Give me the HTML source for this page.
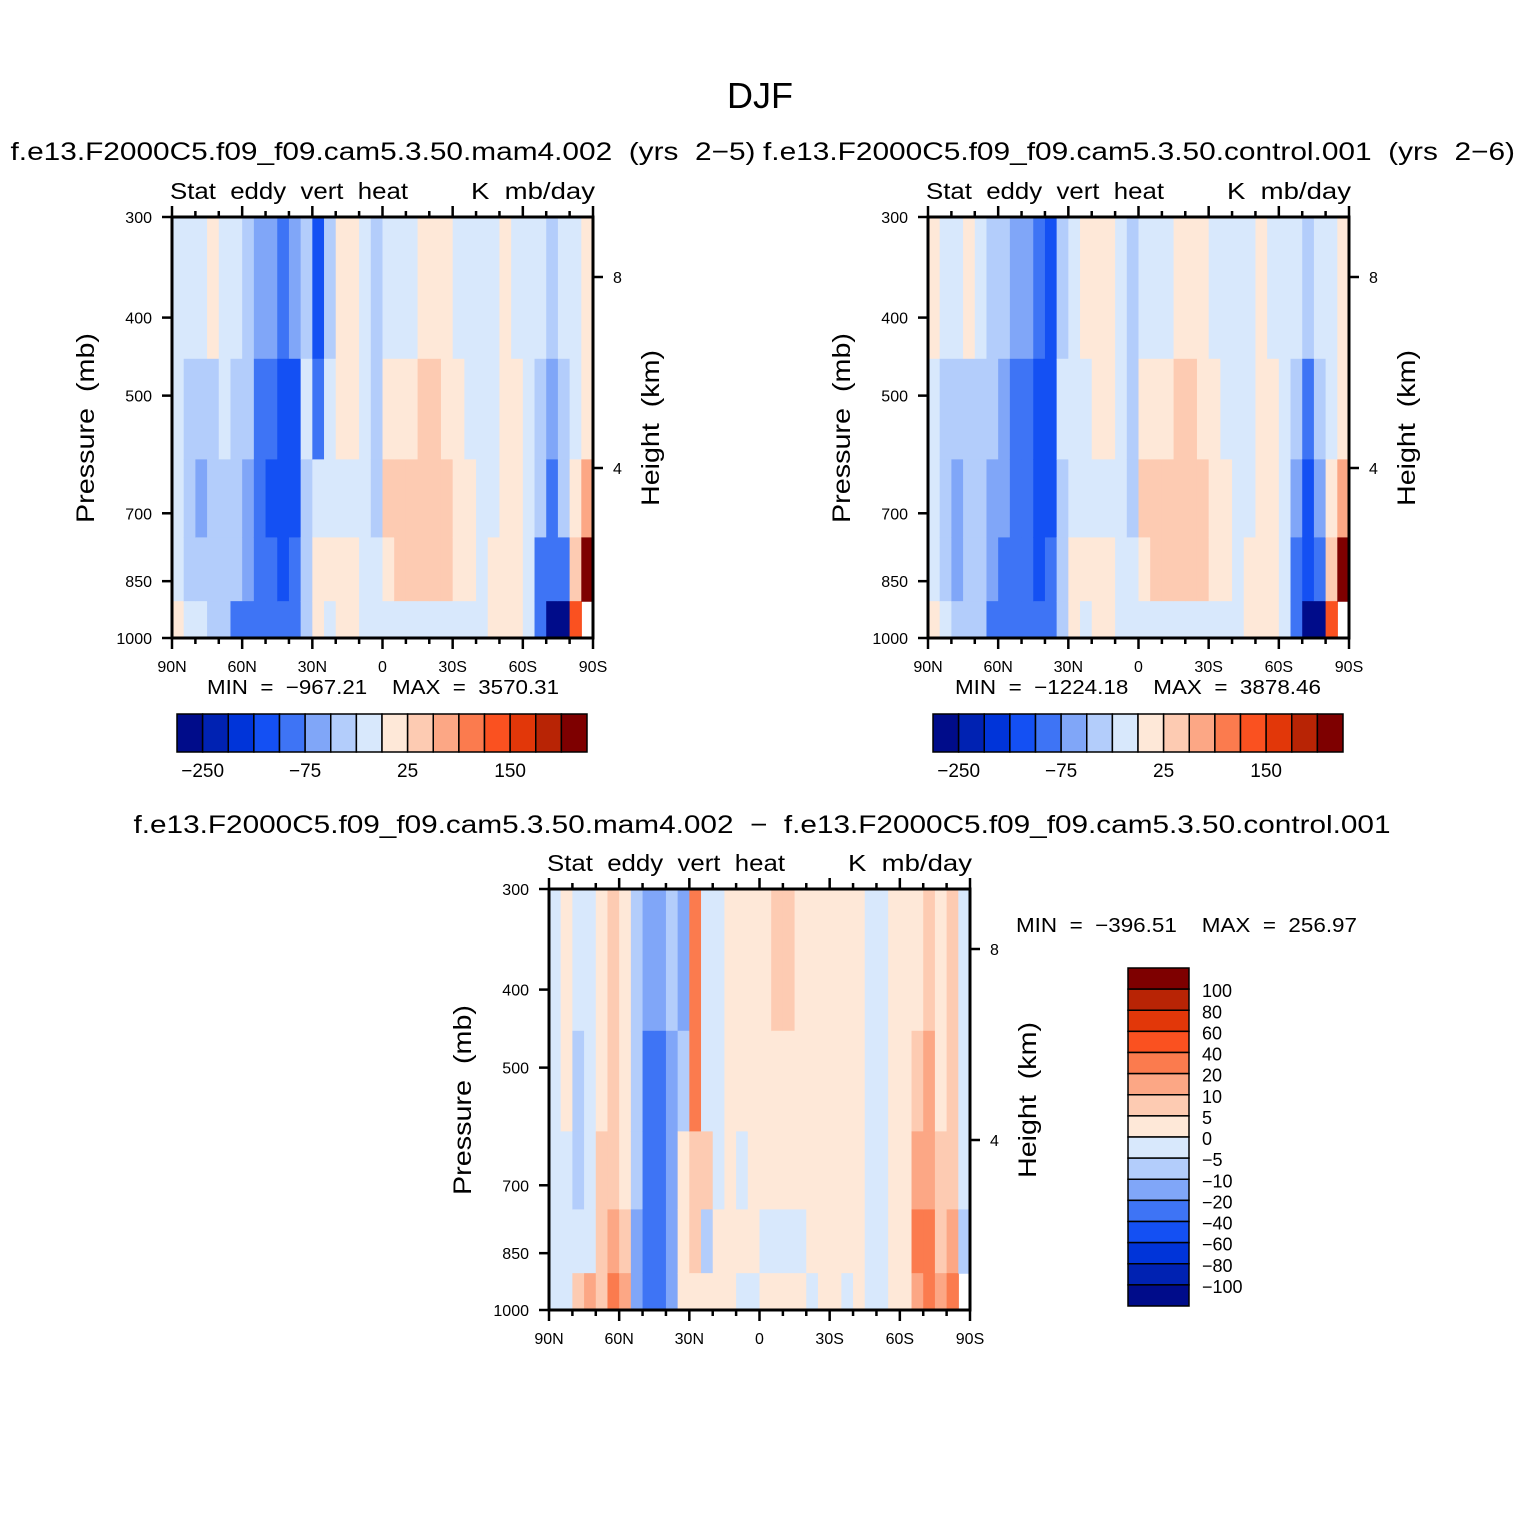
<!DOCTYPE html>
<html><head><meta charset="utf-8"><style>
html,body{margin:0;padding:0;background:#fff;}
svg{display:block;font-family:"Liberation Sans",sans-serif;}
svg text{white-space:pre;}
</style></head><body>
<svg id="fig" width="1522" height="1522" viewBox="0 0 1522 1522">
<text x="760" y="108" font-size="36" text-anchor="middle">DJF</text>
</svg>
<script>
// ---- data ----
const latCols = [];  // 36 bins of 5 degrees, 90N -> 90S
for (let i = 0; i < 36; i++) latCols.push(90 - 5 * i);
const presEdges = [300, 450, 600, 750, 900, 1000];
const levels12 = [-250,-200,-150,-100,-75,-50,-25,0,25,50,75,100,150,200,250];
const levels3 = [-100,-80,-60,-40,-20,-10,-5,0,5,10,20,40,60,80,100];
const colors = ["#000c8a","#0022b2","#0034d9","#1450f3","#3e74f5","#80a6f8","#b3cdfb","#d8e8fc","#fee8d8","#fdcbb2","#fca785","#fb7b4e","#fa5120","#e23709","#b82405","#7e0000"];
const cbLabels12 = ["-250","-75","25","150"];
const cbLabelIdx12 = [0,4,8,12];
const cbLabels3 = ["100","80","60","40","20","10","5","0","\u22125","\u221210","\u221220","\u221240","\u221260","\u221280","\u2212100"];
// rows: 300-450, 450-600, 600-750, 750-900, 900-1000 ; columns 90N..90S
const p1 = [
[-10,-10,-10,-10,10],[-10,-30,-40,-30,-10],[-10,-40,-60,-40,-20],[10,-30,-30,-30,-30],[-10,-10,-30,-30,-30],
[-10,-30,-40,-40,-80],[-30,-40,-60,-60,-80],[-60,-80,-90,-80,-90],[-60,-90,-110,-90,-90],[-80,-110,-110,-110,-90],
[-60,-110,-110,-90,-80],[-30,-10,-30,-40,-40],[-110,-80,-10,10,10],[-40,-10,-10,10,-10],[10,10,-10,10,10],
[10,10,-10,10,10],[-10,-10,-10,-10,-10],[-30,-30,-30,-10,-10],[-10,10,30,10,-10],[-10,10,30,30,-10],
[-10,10,30,30,-10],[10,30,40,30,-10],[10,30,40,30,-10],[10,10,30,30,-10],[-10,10,10,10,-10],
[-10,-10,10,10,-10],[-10,-10,-10,-10,-10],[-10,-10,-10,10,10],[10,10,10,10,10],[-10,10,10,10,10],
[-10,-10,-10,-10,-10],[-10,-30,-40,-80,-90],[-30,-60,-100,-100,-300],[-10,-30,-40,-80,-300],[-10,-10,10,30,100],
[10,10,50,300,null]];
const p2 = [
[10,-10,-10,-10,10],[-10,-30,-40,-30,-10],[-10,-40,-60,-60,-30],[10,-30,-40,-40,-30],[-10,-30,-40,-40,-40],
[-30,-40,-60,-60,-80],[-40,-60,-60,-80,-80],[-60,-80,-90,-90,-90],[-60,-90,-90,-90,-90],[-80,-110,-110,-110,-90],
[-110,-120,-110,-90,-80],[-30,-10,-30,-40,-40],[-10,-10,-10,10,10],[10,-10,-10,10,-10],[10,10,-10,10,10],
[10,10,-10,10,10],[-10,-10,-10,-10,-10],[-30,-30,-30,-10,-10],[-10,10,30,10,-10],[-10,10,30,30,-10],
[-10,10,30,30,-10],[10,30,40,30,-10],[10,30,40,30,-10],[10,10,30,30,-10],[-10,10,10,10,-10],
[-10,-10,10,10,-10],[-10,-10,-10,-10,-10],[-10,-10,-10,10,10],[10,10,10,10,10],[-10,10,10,10,10],
[-10,-10,-10,-10,-10],[-10,-30,-60,-80,-90],[-30,-80,-110,-110,-300],[-10,-30,-60,-80,-300],[-10,-10,10,30,100],
[10,10,50,300,null]];
const p3 = [
[-3,-3,-3,-3,-3],[3,3,-3,-3,-3],[-3,-7,-7,-3,8],[-3,-3,-3,-3,15],[3,3,8,8,8],
[8,8,8,15,25],[3,3,3,8,15],[-7,-7,-7,-15,-15],[-15,-30,-30,-30,-30],[-15,-30,-30,-30,-30],
[-7,-15,-15,-15,-15],[-15,-7,3,3,3],[30,25,8,8,3],[-3,-3,8,-7,3],[-3,-3,-3,3,3],
[3,3,3,3,3],[3,3,-3,3,-3],[3,3,3,3,-3],[3,3,3,-3,3],[8,3,3,-3,3],
[8,3,3,-3,3],[3,3,3,-3,3],[3,3,3,3,-3],[3,3,3,3,3],[3,3,3,3,3],
[3,3,3,3,-3],[3,3,3,3,3],[-3,-3,-3,-3,-3],[-3,-3,-3,-3,-3],[3,3,3,3,3],
[3,3,3,3,3],[3,8,15,25,15],[8,15,15,25,25],[3,3,8,8,15],[8,8,8,15,30],
[-3,-3,-3,-10,null]];

// ---- drawing ----
const NS = "http://www.w3.org/2000/svg";
const svg = document.getElementById("fig");
function mk(tag, attrs, parent) {
  const e = document.createElementNS(NS, tag);
  for (const k in attrs) e.setAttribute(k, attrs[k]);
  (parent || svg).appendChild(e);
  return e;
}
function colorFor(v, lev) {
  let i = 0;
  while (i < lev.length && v >= lev[i]) i++;
  return colors[i];
}
function drawPanel(px, py, data, lev, pname) {
  const W = 421, H = 421;
  const g = mk("g", {});
  
  
  const xs = lat => px + (90 - lat) / 180 * W;
  const ys = p => py + H * Math.log(p / 300) / Math.log(1000 / 300);
  data.forEach((col, i) => {
    const lat = latCols[i];
    col.forEach((v, j) => {
      if (v === null) return;
      const x0 = xs(lat), x1 = xs(lat - 5);
      const y0 = ys(presEdges[j]), y1 = ys(presEdges[j + 1]);
      const r = mk("rect", {x: x0, y: y0, width: x1 - x0 + 0.6, height: y1 - y0 + 0.6, fill: colorFor(v, lev)}, g);
      
      
    });
  });
  const fr = mk("rect", {x: px, y: py, width: W, height: H, fill: "none", stroke: "#000", "stroke-width": 3}, g);
  
  
  const latLabels = ["90N","60N","30N","0","30S","60S","90S"];
  for (let d = 0; d <= 180; d += 10) {
    const x = px + d / 180 * W;
    const major = d % 30 === 0;
    const L = major ? 11 : 6;
    mk("line", {x1: x, y1: py + H, x2: x, y2: py + H + L, stroke: "#000", "stroke-width": 2.5}, g);
    mk("line", {x1: x, y1: py, x2: x, y2: py - L, stroke: "#000", "stroke-width": 2.5}, g);
    if (major) {
      const t = mk("text", {x: x, y: py + H + 34, "font-size": 16, "text-anchor": "middle"}, g);
      t.textContent = latLabels[d / 30];
      
      
    }
  }
  [300,400,500,700,850,1000].forEach(p => {
    const y = ys(p);
    mk("line", {x1: px, y1: y, x2: px - 10, y2: y, stroke: "#000", "stroke-width": 2.5}, g);
    const t = mk("text", {x: px - 20, y: y + 6, "font-size": 16, "text-anchor": "end"}, g);
    t.textContent = p;
    
    
  });
  [[8, 60], [4, 251]].forEach(([km, dy]) => {
    const y = py + dy;
    mk("line", {x1: px + W, y1: y, x2: px + W + 10, y2: y, stroke: "#000", "stroke-width": 2.5}, g);
    const t = mk("text", {x: px + W + 20, y: y + 6, "font-size": 16}, g);
    t.textContent = km;
    
    
  });
  let t = mk("text", {x: px - 2, y: py - 18, "font-size": 23, textLength: 238, lengthAdjust: "spacingAndGlyphs"}, g);
  t.textContent = "Stat  eddy  vert  heat";
  
  
  t = mk("text", {x: px + 299, y: py - 18, "font-size": 23, textLength: 124, lengthAdjust: "spacingAndGlyphs"}, g);
  t.textContent = "K  mb/day";
  
  
  t = mk("text", {x: 0, y: 0, "font-size": 25, "text-anchor": "middle", textLength: 190, lengthAdjust: "spacingAndGlyphs", transform: `translate(${px - 78},${py + 211}) rotate(-90)`}, g);
  t.textContent = "Pressure  (mb)";
  
  
  t = mk("text", {x: 0, y: 0, "font-size": 25, "text-anchor": "middle", textLength: 156, lengthAdjust: "spacingAndGlyphs", transform: `translate(${px + W + 66},${py + 211}) rotate(-90)`}, g);
  t.textContent = "Height  (km)";
  
  
}
function text(x, y, s, size, anchor, len, name) {
  const t = mk("text", {x: x, y: y, "font-size": size, "text-anchor": anchor || "start"});
  if (len) { t.setAttribute("textLength", len); t.setAttribute("lengthAdjust", "spacingAndGlyphs"); }
  t.textContent = s;
  
  
  return t;
}
function hbar(x0, y0, name) {
  const bw = 410 / 16;
  const g = mk("g", {});
  
  
  colors.forEach((c, i) => {
    const r = mk("rect", {x: x0 + i * bw, y: y0, width: bw, height: 38, fill: c, stroke: "#000", "stroke-width": 1.5}, g);
    
    
  });
  cbLabels12.forEach((s, k) => {
    const t = mk("text", {x: x0 + (cbLabelIdx12[k] + 1) * bw, y: y0 + 63, "font-size": 19, "text-anchor": "middle"}, g);
    t.textContent = s.replace("-", "\u2212");
    
    
  });
}
function vbar(x0, y0, name) {
  const bh = 338 / 16;
  const g = mk("g", {});
  
  
  for (let i = 0; i < 16; i++) {
    const r = mk("rect", {x: x0, y: y0 + i * bh, width: 61, height: bh, fill: colors[15 - i], stroke: "#000", "stroke-width": 1.5}, g);
    
    
  }
  cbLabels3.forEach((s, k) => {
    const t = mk("text", {x: x0 + 74, y: y0 + (k + 1) * bh + 8, "font-size": 18}, g);
    t.textContent = s;
    
    
  });
}

text(383, 160, "f.e13.F2000C5.f09_f09.cam5.3.50.mam4.002  (yrs  2\u22125)", 25, "middle", 745, "panel1-title");
text(1139, 160, "f.e13.F2000C5.f09_f09.cam5.3.50.control.001  (yrs  2\u22126)", 25, "middle", 752, "panel2-title");
text(762, 833, "f.e13.F2000C5.f09_f09.cam5.3.50.mam4.002  \u2212  f.e13.F2000C5.f09_f09.cam5.3.50.control.001", 25, "middle", 1257, "panel3-title");
drawPanel(172, 217, p1, levels12, "panel-mam4");
drawPanel(928, 217, p2, levels12, "panel-control");
drawPanel(549, 889, p3, levels3, "panel-difference");
text(383, 694, "MIN  =  \u2212967.21    MAX  =  3570.31", 20, "middle", 352, "panel1-minmax");
text(1138, 694, "MIN  =  \u22121224.18    MAX  =  3878.46", 20, "middle", 366, "panel2-minmax");
text(1016, 932, "MIN  =  \u2212396.51    MAX  =  256.97", 20, "start", 341, "panel3-minmax");
hbar(177, 714, "colorbar-mam4");
hbar(933, 714, "colorbar-control");
vbar(1128, 968, "colorbar-difference");
</script>
</body></html>
